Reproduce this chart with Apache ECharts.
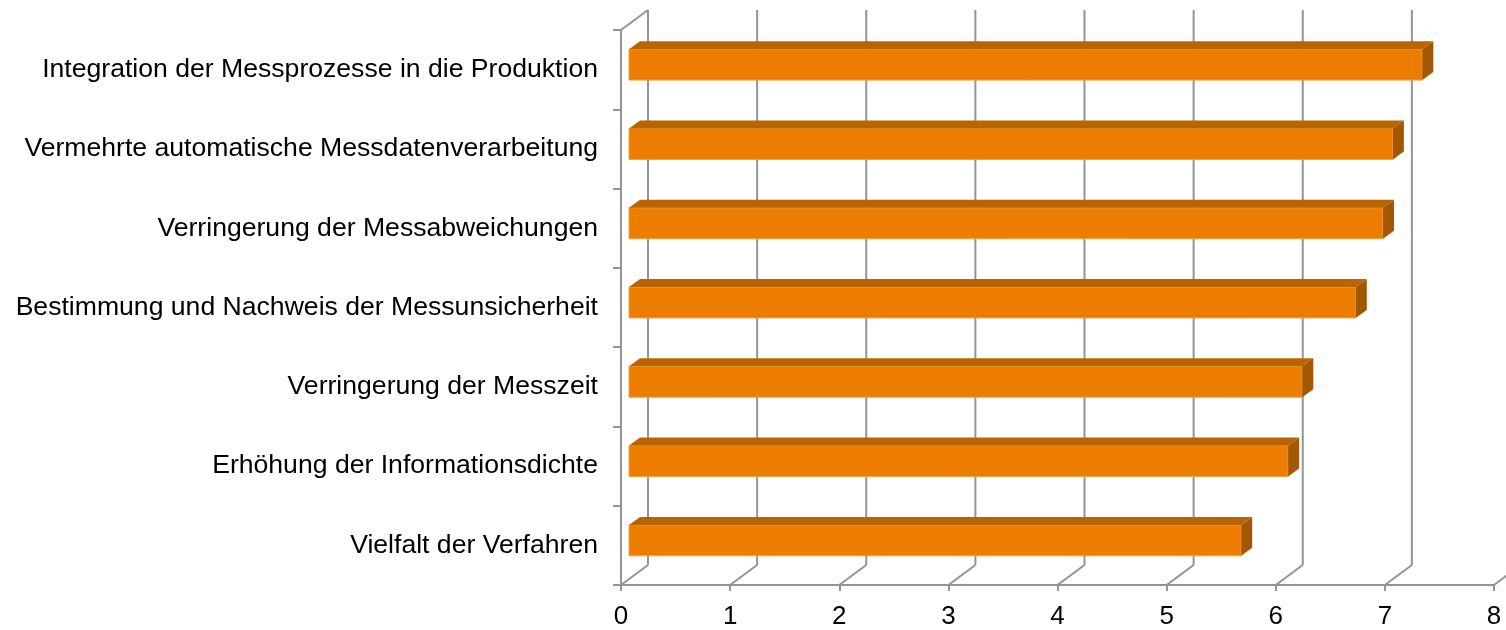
<!DOCTYPE html>
<html>
<head>
<meta charset="utf-8">
<script src="https://cdn.jsdelivr.net/npm/echarts@6/dist/echarts.min.js"></script>
<style>
  html, body { margin: 0; padding: 0; background: #fff; }
  #chart { width: 1506px; height: 630px; }
</style>
</head>
<body>
<div id="chart"></div>
<script>
// Kategorien von oben nach unten
var categories = [
  'Integration der Messprozesse in die Produktion',
  'Vermehrte automatische Messdatenverarbeitung',
  'Verringerung der Messabweichungen',
  'Bestimmung und Nachweis der Messunsicherheit',
  'Verringerung der Messzeit',
  'Erhöhung der Informationsdichte',
  'Vielfalt der Verfahren'
];
var values = [7.27, 7.0, 6.91, 6.66, 6.17, 6.04, 5.61];
var xTicks = [0, 1, 2, 3, 4, 5, 6, 7, 8];

var chartDom = document.getElementById('chart');
var myChart = echarts.init(chartDom);

// Tiefe der Rückwand (px)
var WALL_DX = 27, WALL_DY = -20;
var gridColor = '#949494';

var option = {
  animation: false,
  grid: {
    left: 621,
    top: 30,
    width: 873,
    height: 556
  },
  xAxis: {
    type: 'value',
    min: 0,
    max: 8,
    interval: 1,
    axisLine: { show: true, lineStyle: { color: gridColor, width: 2 } },
    axisTick: { show: true, length: 6, lineStyle: { color: gridColor, width: 2 } },
    splitLine: { show: false },
    axisLabel: {
      fontFamily: 'Liberation Sans, Arial, sans-serif',
      fontSize: 26,
      color: '#000',
      margin: 19
    }
  },
  yAxis: {
    type: 'category',
    inverse: true,
    data: categories,
    axisLine: { show: true, lineStyle: { color: gridColor, width: 2 } },
    axisTick: { show: true, length: 8, lineStyle: { color: gridColor, width: 2 } },
    axisLabel: {
      fontFamily: 'Liberation Sans, Arial, sans-serif',
      fontSize: 26.6,
      color: '#000',
      margin: 23,
      padding: [5, 0, 0, 0]
    }
  },
  series: [
    {
      // Rückwand-Gitter + Bodenlinien
      type: 'custom',
      silent: true,
      clip: false,
      z: 1,
      data: xTicks.map(function (v) { return [v, 0]; }),
      renderItem: function (params, api) {
        var cs = params.coordSys;
        var x = api.coord([api.value(0), 0])[0];
        var bottom = cs.y + cs.height;
        var top = cs.y;
        var style = { stroke: gridColor, lineWidth: 2 };
        var children = [
          { type: 'line', shape: { x1: x + WALL_DX, y1: top + WALL_DY, x2: x + WALL_DX, y2: bottom + WALL_DY }, style: style },
          { type: 'line', shape: { x1: x, y1: bottom, x2: x + WALL_DX, y2: bottom + WALL_DY }, style: style }
        ];
        if (params.dataIndex === 0) {
          children.push({ type: 'line', shape: { x1: x, y1: top, x2: x + WALL_DX, y2: top + WALL_DY }, style: style });
        }
        return { type: 'group', children: children };
      }
    },
    {
      // 3D-Balken
      type: 'custom',
      clip: false,
      z: 5,
      data: values.map(function (v, i) { return [v, i]; }),
      renderItem: function (params, api) {
        var i = api.value(1);
        var p0 = api.coord([0, i]);
        var p1 = api.coord([api.value(0), i]);
        var band = api.size([0, 1])[1];
        var h = band * 0.39;
        var L = p0[0] + 8, R = p1[0] + 8;
        var T = p0[1] - 5 - h / 2, B = T + h;
        var dx = 11, dy = -8;
        return {
          type: 'group',
          children: [
            { type: 'rect', shape: { x: L, y: T, width: R - L, height: h },
              style: { fill: '#ED7D00', stroke: '#F5A040', lineWidth: 1 } },
            { type: 'polygon', shape: { points: [[L, T], [R, T], [R + dx, T + dy], [L + dx, T + dy]] },
              style: { fill: '#B86400' } },
            { type: 'polygon', shape: { points: [[R, T], [R + dx, T + dy], [R + dx, B + dy], [R, B]] },
              style: { fill: '#A35800' } }
          ]
        };
      }
    }
  ]
};
myChart.setOption(option);
</script>
</body>
</html>
